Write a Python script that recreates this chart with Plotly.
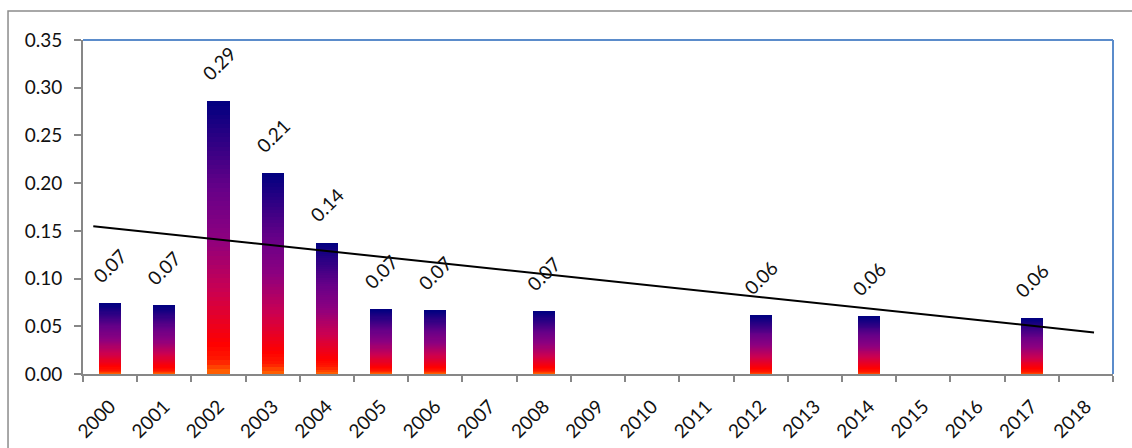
import numpy as np
import plotly.graph_objects as go
from plotly.colors import sample_colorscale

# Annual values (years without a value have no bar)
years_all = list(range(2000, 2019))
bar_years = [2000, 2001, 2002, 2003, 2004, 2005, 2006, 2008, 2012, 2014, 2017]
bar_values = [0.0737, 0.0716, 0.286, 0.2104, 0.1377, 0.0677, 0.0666, 0.0652, 0.0614, 0.0603, 0.0582]

# Linear trend line end points
trend_years = [1999.69, 2018.15]
trend_values = [0.1548, 0.0436]

tick_labels = [str(y) for y in years_all]

FONT = "Lato"
FS = 19
TXT = "#111111"
GREY = "#878787"

# Vertical gradient for each column: orange at the base, red, crimson, purple, navy on top
gradient = [
    [0.00, "#ff6a00"],
    [0.05, "#ff1a00"],
    [0.11, "#ff0000"],
    [0.30, "#cc0050"],
    [0.50, "#8c0080"],
    [0.68, "#660088"],
    [1.00, "#000080"],
]

N_SEG = 60
fig = go.Figure()
seg_colors = sample_colorscale(gradient, [(k + 0.5) / N_SEG for k in range(N_SEG)])
vals = np.array(bar_values)
for k in range(N_SEG):
    fig.add_trace(go.Bar(
        x=bar_years,
        y=vals / N_SEG,
        width=0.41,
        marker=dict(color=seg_colors[k], line=dict(width=0)),
        showlegend=False,
        hoverinfo="skip",
    ))

fig.add_trace(go.Scatter(
    x=trend_years, y=trend_values, mode="lines",
    line=dict(color="black", width=2), showlegend=False, hoverinfo="skip",
))

# Value labels above each column
for yr, v in zip(bar_years, bar_values):
    fig.add_annotation(
        x=yr, y=v, text=f"{v:.2f}", showarrow=False, textangle=-45,
        yshift=38, font=dict(family=FONT, size=FS, color=TXT),
    )

fig.update_layout(
    width=1132, height=448,
    margin=dict(l=83, r=19, t=40, b=74),
    barmode="stack", bargap=0,
    paper_bgcolor="white", plot_bgcolor="white",
    font=dict(family=FONT, size=FS, color=TXT),
    showlegend=False,
    shapes=[
        # outer chart border
        dict(type="rect", xref="paper", yref="paper",
             x0=-0.0728, y0=-0.4, x1=1.1, y1=1.0868,
             line=dict(color="#8c8c8c", width=1.5), layer="below"),
        # plot area border (top and right)
        dict(type="line", xref="paper", yref="paper", x0=0, y0=1, x1=1, y1=1,
             line=dict(color="#5b8ccb", width=2)),
        dict(type="line", xref="paper", yref="paper", x0=1, y0=0, x1=1, y1=1,
             line=dict(color="#5b8ccb", width=2)),
    ],
)

fig.update_xaxes(
    type="linear", range=[1999.5, 2018.5], automargin=False,
    tickmode="array", tickvals=years_all, ticktext=tick_labels,
    tickangle=-45, ticks="", ticklabelstandoff=12,
    showline=True, linecolor=GREY, linewidth=2,
    showgrid=False, zeroline=False,
    minor=dict(ticks="outside", tick0=1999.5, dtick=1, ticklen=6,
               tickwidth=2, tickcolor=GREY, showgrid=False),
    tickfont=dict(family=FONT, size=FS, color=TXT),
)
fig.update_yaxes(
    range=[0, 0.35], dtick=0.05, tick0=0, tickformat=".2f", automargin=False,
    showline=True, linecolor=GREY, linewidth=2,
    ticks="outside", ticklen=7, tickwidth=2, tickcolor=GREY,
    showgrid=False, zeroline=False, ticklabelstandoff=8,
    tickfont=dict(family=FONT, size=FS, color=TXT),
)

fig.write_html("out.html")
